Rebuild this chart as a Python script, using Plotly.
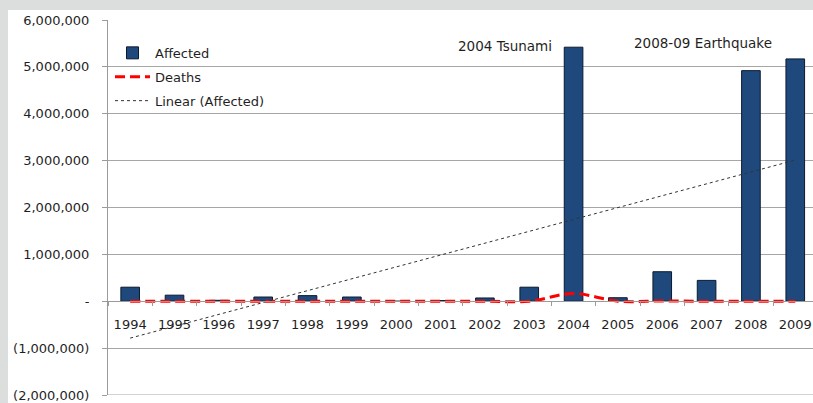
import numpy as np
import plotly.graph_objects as go

# Indonesia natural disasters: people affected and deaths per year
years = ["1994", "1995", "1996", "1997", "1998", "1999", "2000", "2001",
         "2002", "2003", "2004", "2005", "2006", "2007", "2008", "2009"]
affected = [300000, 130000, 20000, 90000, 120000, 90000, 0, 15000,
            70000, 300000, 5420000, 75000, 630000, 445000, 4920000, 5170000]
deaths = [2500, 1200, 500, 800, 600, 700, 300, 400,
          300, 600, 165000, 1800, 6500, 800, 500, 1500]

y_ticks = [-2000000, -1000000, 0, 1000000, 2000000, 3000000, 4000000, 5000000, 6000000]


def money_fmt(v):
    if v == 0:
        return "-"
    if v < 0:
        return "({:,})".format(-v)
    return "{:,}".format(v)


y_text = [money_fmt(v) for v in y_ticks]

# least-squares trend of affected over the year index
idx = np.arange(1, len(years) + 1)
slope, intercept = np.polyfit(idx, affected, 1)
trend = slope * idx + intercept

FONT = "DejaVu Sans"
TEXT = "#1f1f1f"
W, H = 813, 403
ML, MR, MT, MB = 108, 0, 20, 6
PW, PH = W - ML - MR, H - MT - MB
GRID = "#a6a6a6"


def px_x(p):
    return (p - ML) / PW


def px_y(p):
    return (H - MB - p) / PH


fig = go.Figure()
fig.add_trace(go.Bar(
    x=years, y=affected, name="Affected",
    marker=dict(color="#1F497D", line=dict(color="#0b1a30", width=1)),
    legendgroup="a",
))
fig.add_trace(go.Scatter(
    x=years, y=deaths, name="Deaths", mode="lines",
    line=dict(color="#FF0000", width=3, dash="10px,5px", shape="spline", smoothing=1),
    legendgroup="b",
))
fig.add_trace(go.Scatter(
    x=years, y=trend, name="Linear (Affected)", mode="lines",
    line=dict(color="#333333", width=1, dash="dot"),
    legendgroup="c",
))

fig.update_layout(
    width=W, height=H,
    margin=dict(l=ML, r=MR, t=MT, b=MB),
    paper_bgcolor="white", plot_bgcolor="white",
    bargap=0.58,
    font=dict(family=FONT, size=13, color=TEXT),
    showlegend=True,
    legend=dict(
        x=px_x(110), y=px_y(38), xanchor="left", yanchor="top",
        bgcolor="rgba(0,0,0,0)", font=dict(family=FONT, size=13, color=TEXT),
        traceorder="grouped", tracegroupgap=4, itemwidth=35,
    ),
    xaxis=dict(
        type="category", range=[-0.5, 15.4],
        anchor="free", position=0.25,
        showline=True, linecolor="#9a9a9a", linewidth=1,
        ticks="outside", tickson="boundaries", ticklen=4, tickcolor="#9a9a9a",
        showgrid=False, ticklabelstandoff=11,
        tickfont=dict(family=FONT, size=13, color=TEXT),
    ),
    yaxis=dict(
        range=[-2000000, 6000000],
        tickvals=y_ticks, ticktext=y_text,
        showline=True, linecolor="#9a9a9a", linewidth=1,
        ticks="outside", ticklen=5, tickcolor="#9a9a9a",
        showgrid=True, gridcolor=GRID, gridwidth=1,
        zeroline=False, ticklabelstandoff=10, ticklabeloverflow="allow",
        tickfont=dict(family=FONT, size=13, color=TEXT),
    ),
    shapes=[
        # bottom gridline at the lower end of the value axis
        dict(type="line", xref="paper", yref="y", layer="below",
             x0=0, x1=1, y0=y_ticks[0], y1=y_ticks[0],
             line=dict(color=GRID, width=1)),
        dict(type="rect", xref="paper", yref="paper", layer="above",
             x0=px_x(-5), x1=px_x(8), y0=px_y(410), y1=px_y(-5),
             fillcolor="#dcdedd", line=dict(width=0)),
        dict(type="rect", xref="paper", yref="paper", layer="above",
             x0=px_x(-5), x1=px_x(820), y0=px_y(10), y1=px_y(-5),
             fillcolor="#dcdedd", line=dict(width=0)),
    ],
    annotations=[
        dict(text="2004 Tsunami", xref="paper", yref="paper",
             x=px_x(505), y=px_y(46), xanchor="center", yanchor="middle",
             showarrow=False,
             font=dict(family=FONT, size=13.5, color=TEXT)),
        dict(text="2008-09 Earthquake", xref="paper", yref="paper",
             x=px_x(703), y=px_y(43), xanchor="center", yanchor="middle",
             showarrow=False,
             font=dict(family=FONT, size=13.5, color=TEXT)),
    ],
)

fig.write_html("out.html")
